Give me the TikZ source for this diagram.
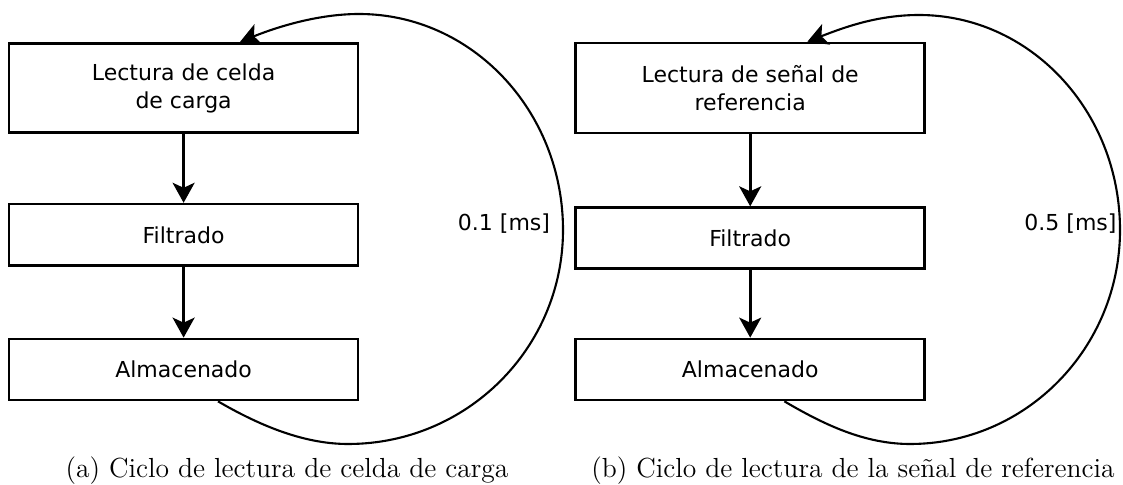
\documentclass[tikz,border=0pt]{standalone}
\usepackage{fontspec}
\newfontfamily\boxfont{DejaVu Sans}
\usetikzlibrary{arrows.meta}
\begin{document}
\begin{tikzpicture}[x=0.5pt,y=-0.5pt,
  blk/.style={draw=black, line width=1.35pt, minimum width=174.5pt, inner sep=0pt, align=center, font=\boxfont\fontsize{11}{14}\selectfont},
  flow/.style={-{Stealth[length=10pt,width=11pt,inset=2.5pt]}, line width=1.3pt},
  loopline/.style={-{Stealth[length=10pt,width=11pt,inset=2.5pt]}, line width=1.05pt},
  lbl/.style={font=\boxfont\fontsize{11}{14}\selectfont, inner sep=0pt},
  captext/.style={font=\fontsize{13.8}{16}\selectfont, anchor=base, inner sep=0pt}]
\useasboundingbox (0,0) rectangle (1123,485);
% left panel
\node[blk, minimum height=44.75pt] (a1) at (183.6,88) {Lectura de celda\\de carga};
\node[blk, minimum height=30.85pt] (a2) at (183.6,235) {Filtrado};
\node[blk, minimum height=30.5pt] (a3) at (183.6,369.5) {Almacenado};
\draw[flow] (a1) -- (a2);
\draw[flow] (a2) -- (a3);
\coordinate (aB) at (348,444);
\coordinate (aR) at (563,230);
\coordinate (aT) at (359,14);
\draw[loopline] ([xshift=17.2pt]a3.south) .. controls (257,424) and (302,444) .. (aB)
  .. controls (467,444) and (563,348) .. (aR)
  .. controls (563,111) and (472,14) .. (aT)
  .. controls (318,14) and (277,27) .. ([xshift=28.2pt]a1.north);
\node[lbl] (t1) at (504,224) {0.1 [ms]};
% right panel
\node[blk, minimum height=45pt] (b1) at (750.2,88) {Lectura de señal de\\referencia};
\node[blk, minimum height=30.3pt] (b2) at (750.2,238) {Filtrado};
\node[blk, minimum height=30.5pt] (b3) at (750.2,369.5) {Almacenado};
\draw[flow] (b1) -- (b2);
\draw[flow] (b2) -- (b3);
\coordinate (bB) at (910,444);
\coordinate (bR) at (1120,230);
\coordinate (bT) at (919,15);
\draw[loopline] ([xshift=17.1pt]b3.south) .. controls (823,424) and (864,444) .. (bB)
  .. controls (1026,444) and (1120,348) .. (bR)
  .. controls (1120,111) and (1030,15) .. (bT)
  .. controls (878,15) and (845,27) .. ([xshift=28.6pt]b1.north);
\node[lbl] (t2) at (1070.5,224) {0.5 [ms]};
% captions
\node[captext] (capa) at (287,478) {(a) Ciclo de lectura de celda de carga};
\node[captext] (capb) at (853,478) {(b) Ciclo de lectura de la señal de referencia};
\end{tikzpicture}
\end{document}
